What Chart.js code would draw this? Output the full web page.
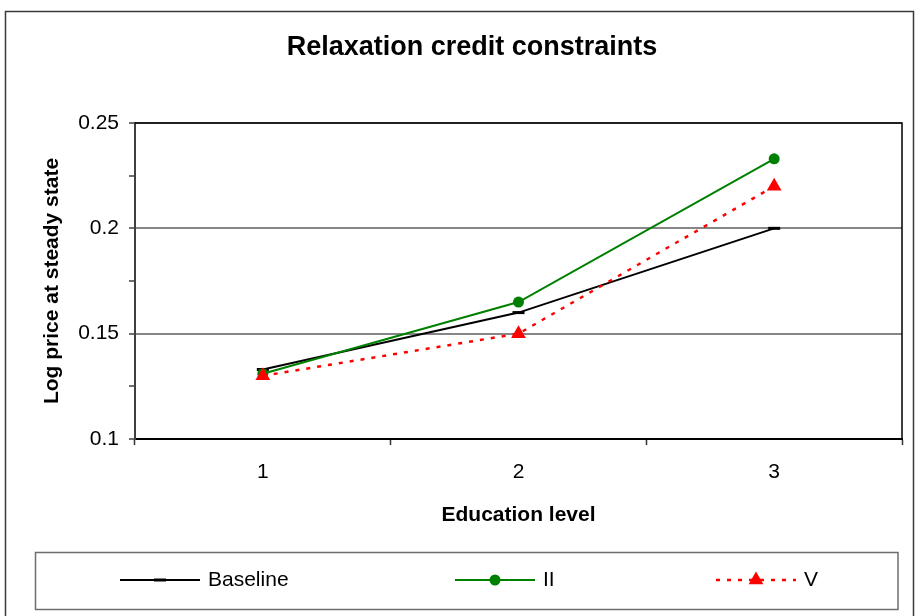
<!DOCTYPE html>
<html>
<head>
<meta charset="utf-8">
<title>Relaxation credit constraints</title>
<script src="https://cdn.jsdelivr.net/npm/chart.js@4/dist/chart.umd.min.js"></script>
<style>
  html, body { margin: 0; padding: 0; background: #ffffff; }
  #wrap { width: 917px; height: 616px; position: relative; }
</style>
</head>
<body>
<div id="wrap"><canvas id="chart" width="917" height="616"></canvas></div>
<script>
// Education levels on the horizontal axis
const categories = ['1', '2', '3'];

// Log price at steady state for each scenario
const baselineValues = [0.133, 0.160, 0.200];
const scenarioIIValues = [0.131, 0.165, 0.233];
const scenarioVValues = [0.130, 0.150, 0.220];

// Series names shown in the legend
const seriesNames = ['Baseline', 'II', 'V'];

// Value axis range and spacing (labels every 0.05, tick marks every 0.025)
const yMin = 0.1;
const yMax = 0.25;
const yMinorStep = 0.025;
const yLabelStep = 0.05;

const FONT = "'Liberation Sans', Arial, Helvetica, sans-serif";
Chart.defaults.font.family = FONT;
Chart.defaults.color = '#000000';

const isLabelled = v => Math.abs(Math.round(v / yLabelStep) - v / yLabelStep) < 1e-6;

// White page with a dark frame around the whole chart
const framePlugin = {
  id: 'frame',
  beforeDraw(chart) {
    const ctx = chart.ctx;
    ctx.save();
    ctx.fillStyle = '#ffffff';
    ctx.fillRect(0, 0, chart.width, chart.height);
    ctx.strokeStyle = '#3a3a3a';
    ctx.lineWidth = 1.5;
    ctx.strokeRect(5.5, 11.5, 908, 640);
    ctx.restore();
  },
  // top and right edges of the plot area
  beforeDatasetsDraw(chart) {
    const {ctx, chartArea: a} = chart;
    ctx.save();
    ctx.strokeStyle = '#000000';
    ctx.lineWidth = 1.5;
    ctx.beginPath();
    ctx.moveTo(a.left, a.top);
    ctx.lineTo(a.right, a.top);
    ctx.lineTo(a.right, a.bottom);
    ctx.stroke();
    ctx.restore();
  }
};

function drawMarker(ctx, ds, x, y) {
  const r = ds.pointRadius;
  ctx.save();
  ctx.fillStyle = ds.pointBackgroundColor;
  ctx.strokeStyle = ds.pointBorderColor;
  ctx.lineWidth = ds.pointBorderWidth;
  ctx.setLineDash([]);
  ctx.beginPath();
  if (ds.pointStyle === 'line') {
    ctx.moveTo(x - r, y);
    ctx.lineTo(x + r, y);
    ctx.stroke();
  } else if (ds.pointStyle === 'triangle') {
    ctx.moveTo(x, y - r);
    ctx.lineTo(x + r * Math.sin(2 * Math.PI / 3), y - r * Math.cos(2 * Math.PI / 3));
    ctx.lineTo(x + r * Math.sin(4 * Math.PI / 3), y - r * Math.cos(4 * Math.PI / 3));
    ctx.closePath();
    ctx.fill();
  } else {
    ctx.arc(x, y, r, 0, Math.PI * 2);
    ctx.fill();
  }
  ctx.restore();
}

// Boxed legend below the axis title: sample line with marker, then the name
const legendBoxPlugin = {
  id: 'legendBox',
  afterDraw(chart) {
    const ctx = chart.ctx;
    const box = {x: 35.5, y: 552.5, w: 862.5, h: 57};
    ctx.save();
    ctx.strokeStyle = '#6e6e6e';
    ctx.lineWidth = 1.5;
    ctx.strokeRect(box.x, box.y, box.w, box.h);

    const starts = [120, 455, 716];
    const sampleLen = 80;
    const cy = 580;
    chart.data.datasets.forEach((ds, i) => {
      const x0 = starts[i];
      const x1 = x0 + sampleLen;
      ctx.save();
      ctx.strokeStyle = ds.borderColor;
      ctx.lineWidth = ds.borderWidth;
      ctx.setLineDash(ds.borderDash || []);
      ctx.beginPath();
      ctx.moveTo(x0, cy);
      ctx.lineTo(x1, cy);
      ctx.stroke();
      ctx.restore();
      drawMarker(ctx, ds, (x0 + x1) / 2, cy);
      ctx.fillStyle = '#000000';
      ctx.font = '21px ' + FONT;
      ctx.textAlign = 'left';
      ctx.textBaseline = 'middle';
      ctx.fillText(ds.label, x1 + 8, cy);
    });
    ctx.restore();
  }
};

const datasets = [
  {
    label: seriesNames[0],
    data: baselineValues,
    borderColor: '#000000',
    borderWidth: 2,
    pointStyle: 'line',
    pointRadius: 6,
    pointBorderWidth: 3,
    pointBorderColor: '#000000',
    pointBackgroundColor: '#000000',
    order: 2
  },
  {
    label: seriesNames[1],
    data: scenarioIIValues,
    borderColor: '#008000',
    borderWidth: 2,
    pointStyle: 'circle',
    pointRadius: 5.5,
    pointBorderWidth: 0,
    pointBorderColor: '#008000',
    pointBackgroundColor: '#008000',
    order: 1
  },
  {
    label: seriesNames[2],
    data: scenarioVValues,
    borderColor: '#ff0000',
    borderWidth: 2.5,
    borderDash: [4, 7],
    pointStyle: 'triangle',
    pointRadius: 8.5,
    pointBorderWidth: 0,
    pointBorderColor: '#ff0000',
    pointBackgroundColor: '#ff0000',
    order: 0
  }
];

new Chart(document.getElementById('chart'), {
  type: 'line',
  data: { labels: categories, datasets },
  plugins: [framePlugin, legendBoxPlugin],
  options: {
    responsive: false,
    animation: false,
    events: [],
    layout: { padding: { left: 42, top: 12, right: 15, bottom: 77 } },
    elements: { line: { tension: 0 } },
    plugins: {
      legend: { display: false },
      tooltip: { enabled: false },
      title: {
        display: true,
        text: 'Relaxation credit constraints',
        font: { size: 27, weight: 'bold' },
        color: '#000000',
        padding: { top: 19, bottom: 59.6 }
      }
    },
    scales: {
      x: {
        type: 'category',
        offset: true,
        afterFit(scale) { scale.height = 100; },
        grid: {
          offset: true,
          drawOnChartArea: false,
          tickLength: 6,
          tickColor: '#333333',
          tickWidth: 1.5
        },
        border: { color: '#000000', width: 2 },
        ticks: { font: { size: 21 }, padding: 15, color: '#000000' },
        title: {
          display: true,
          text: 'Education level',
          font: { size: 21, weight: 'bold' },
          color: '#000000',
          padding: { top: 0, bottom: 11 }
        }
      },
      y: {
        min: yMin,
        max: yMax,
        afterFit(scale) { scale.width = 93; },
        afterBuildTicks(scale) {
          const t = [];
          const n = Math.round((yMax - yMin) / yMinorStep);
          for (let i = 0; i <= n; i++) t.push({ value: +(yMin + i * yMinorStep).toFixed(4) });
          scale.ticks = t;
        },
        grid: {
          color: c => (c.tick && isLabelled(c.tick.value)) ? '#868686' : 'rgba(0,0,0,0)',
          lineWidth: 2,
          tickLength: 6,
          tickColor: '#404040',
          tickWidth: 1.5
        },
        border: { color: '#404040', width: 2 },
        ticks: {
          autoSkip: false,
          font: { size: 21 },
          padding: 10,
          color: '#000000',
          callback: v => isLabelled(v) ? String(+v.toFixed(3)) : ''
        },
        title: {
          display: true,
          text: 'Log price at steady state',
          font: { size: 21, weight: 'bold' },
          color: '#000000',
          padding: { top: -2.6, bottom: 0 }
        }
      }
    }
  }
});
</script>
</body>
</html>
